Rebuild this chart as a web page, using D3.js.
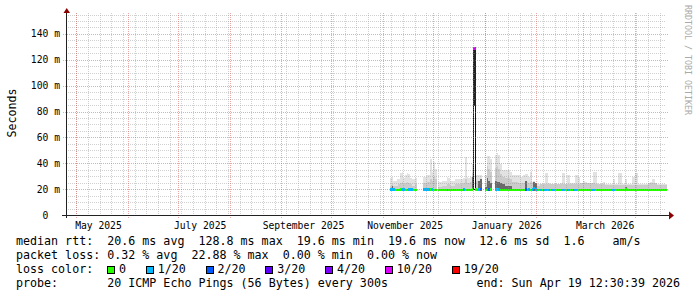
<!DOCTYPE html>
<html>
<head>
<meta charset="utf-8">
<script src="https://cdn.jsdelivr.net/npm/d3@7"></script>
<style>
  html, body { margin: 0; padding: 0; background: #fff; }
  svg { display: block; font-family: "DejaVu Sans Mono", monospace; }
  text { white-space: pre; }
</style>
</head>
<body>
<svg id="chart" width="697" height="297"></svg>
<script>
// time span of the graph (last 360 days)
const tStart = new Date(2025, 3, 24, 12, 30, 39)
const tEnd = new Date(2026, 3, 19, 12, 30, 39)

// one value per day, starting at dataStart (null = no data)
const dataStart = new Date(2025, 10, 5)

const median = [
  19.8, 19.8, 19.9, 19.7, 19.7, 19.7, 19.8, 19.8, 19.9, 19.7,
  19.7, 19.8, 19.8, 19.8, 19.7, 19.7, null, null, null, null,
  19.8, 19.8, 19.9, 19.8, 19.8, 19.9, 19.7, 19.7, null, 19.7,
  19.6, 19.6, 19.7, 19.6, 19.7, 19.7, 19.6, 19.6, 19.7, 19.7,
  19.6, 19.7, 19.7, 19.6, 19.9, 19.7, 19.7, 19.6, 19.7, 19.8,
  128.8, 19.8, 19.7, 19.8, 20.2, null, null, 19.7, 19.8, 20.0,
  19.8, null, null, 19.9, 19.8, 19.8, 19.7, 19.7, 19.6, 19.7,
  19.7, 19.6, 19.6, 19.7, 19.7, 19.6, 19.6, 19.7, 19.6, 19.6,
  19.7, 20.0, 19.7, 19.8, 19.7, 19.9, 21.0, 19.8, 19.7, 19.6,
  19.7, 19.6, 19.7, 19.7, 19.6, 19.7, 19.6, 19.7, 19.7, 19.6,
  19.6, 19.6, 19.6, 19.7, 19.7, 19.6, 19.7, 19.7, 19.6, 19.6,
  19.7, 19.7, 19.7, 19.6, 19.6, 19.6, 19.6, 19.7, 19.6, 19.6,
  19.6, 19.7, 19.7, 19.6, 19.6, 19.6, 19.6, 19.6, 19.6, 19.6,
  19.6, 19.6, 19.6, 19.7, 19.7, 19.6, 19.6, 19.6, 19.6, 19.6,
  19.6, 19.8, 19.6, 19.6, 19.6, 19.6, 19.6, 19.6, 19.6, 19.6,
  19.6, 19.6, 19.6, 19.6, 19.6, 19.6, 19.6, 19.6, 19.6, 19.6,
  19.6, 19.6, 19.6, 19.6, 19.6, 19.6
]

// lost pings out of 20
const loss = [
  1, 1, 1, 0, 0, 0, 0, 1, 1, 0,
  0, 1, 1, 1, 0, 0, null, null, null, null,
  1, 1, 1, 1, 0, 1, 0, 0, null, 0,
  0, 0, 0, 0, 1, 0, 0, 0, 0, 0,
  0, 0, 0, 0, 1, 0, 0, 0, 0, 0,
  10, 0, 0, 1, 2, null, null, 0, 1, 2,
  0, null, null, 1, 0, 1, 0, 0, 0, 0,
  0, 0, 0, 0, 0, 0, 0, 0, 0, 0,
  0, 2, 0, 1, 0, 1, 1, 1, 1, 0,
  1, 0, 1, 1, 0, 1, 0, 1, 1, 0,
  0, 0, 0, 1, 1, 0, 1, 1, 0, 0,
  1, 1, 0, 0, 0, 0, 0, 0, 0, 0,
  0, 1, 1, 0, 0, 0, 0, 0, 0, 0,
  0, 0, 0, 1, 1, 0, 0, 0, 0, 0,
  0, 0, 0, 0, 0, 0, 0, 0, 0, 0,
  0, 0, 0, 0, 0, 0, 0, 0, 0, 0,
  0, 0, 0, 0, 0, 0
]

// top of the outer (lightest) smoke
const smokeMax = [
  29, 30, 27, 27, 28, 28, 33, 34, 29, 31,
  33, 32, 29, 28, 28, 29, null, null, null, null,
  30, 30, 31, 31, 44, 34, 41, 36, null, 26,
  26, 27, 27, 27, 30, 29, 27, 27, 27, 28,
  28, 28, 28, 28, 29, 45, 30, 29, 30, 40,
  null, 31, 31, 31, 31, null, null, 31, 46, 46,
  44, null, null, 47, 48, 47, 40, 35, 35, 35,
  35, 35, 34, 31, 31, 31, 31, 31, 30, 30,
  31, 32, 32, 30, 34, 26, 27, 25, 25, 24,
  24, 25, 24, 33, 33, 25, 24, 24, 24, 25,
  24, 24, 25, 33, 33, 24, 31, 31, 25, 25,
  25, 31, 31, 30, 25, 25, 27, 26, 25, 25,
  25, 25, 34, 34, 25, 24, 24, 25, 26, 24,
  24, 24, 24, 24, 28, 24, 24, 33, 33, 24,
  24, 28, 24, 24, 24, 30, 30, 33, 33, 24,
  24, 24, 24, 24, 24, 25, 26, 28, 28, 25,
  24, 24, 24, 24, 24, 24
]

// top of the inner (darker) smoke
const smokeUpper = [
  23, 24, 23, 23, 23, 24, 25, 26, 24, 25,
  26, 25, 24, 23, 23, 24, null, null, null, null,
  25, 25, 26, 26, 28, 27, 30, 28, null, 22,
  22, 23, 23, 23, 24, 24, 23, 23, 23, 24,
  24, 24, 24, 24, 25, 28, 25, 25, 26, 33,
  null, 27, 27, 26, 26, null, null, 24, 38, 36,
  34, null, null, 37, 38, 36, 32, 30, 30, 29,
  29, 29, 28, 26, 26, 26, 26, 25, 25, 25,
  25, 27, 26, 25, 26, 24, 24, 23, 23, 23,
  24, 24, 24, 24, 24, 24, 24, 24, 24, 24,
  24, 24, 24, 24, 24, 24, 24, 24, 24, 24,
  24, 24, 24, 24, 25, 25, 25, 25, 25, 25,
  25, 25, 25, 24, 24, 24, 24, 24, 24, 23.5,
  23.5, 23.5, 23.5, 23.5, 23.5, 23.5, 23.5, 23.5, 23.5, 23.5,
  23.5, 23.5, 23.5, 23.5, 23.5, 23.5, 23.5, 23.5, 23.5, 23.5,
  23.5, 23.5, 23.5, 23.5, 23.5, 25, 25, 25, 25, 25,
  23.5, 23.5, 23.5, 23.5, 23.5, 23.5
]

// dark smoke core close to the median
const coreDays = [1, 49, 53, 54, 57, 58, 59, 60, 63, 64, 65, 66, 67, 68, 69, 70, 71, 72, 81, 86, 87, 141]
const coreTops = [23, 30, 27, 28, 22, 29, 27, 25, 27, 26, 26, 25, 24, 24, 23, 23, 23, 23, 27, 26, 25, 22]

// the big spike
const spikeDay = 50
const spikeSmoke = [85, 128.8]
const smokeFloor = 19.2

const lossSteps = [1, 2, 3, 4, 10, 19]
const lossLabels = ['0', '1/20', '2/20', '3/20', '4/20', '10/20', '19/20']
const lossColors = ['#26ff00', '#00b8ff', '#0059ff', '#5e00ff', '#7e00ff', '#dd00ff', '#ff0000']

const yTicks = [0, 20, 40, 60, 80, 100, 120, 140]
const yTickLabels = ['0  ', '20 m', '40 m', '60 m', '80 m', '100 m', '120 m', '140 m']
const xLabelMonths = [new Date(2025, 4, 1), new Date(2025, 6, 1), new Date(2025, 8, 1),
  new Date(2025, 10, 1), new Date(2026, 0, 1), new Date(2026, 2, 1)]
const xLabels = ['May 2025', 'July 2025', 'September 2025', 'November 2025', 'January 2026', 'March 2026']

const legendRtt = 'median rtt:  20.6 ms avg  128.8 ms max  19.6 ms min  19.6 ms now  12.6 ms sd  1.6    am/s'
const legendLoss = 'packet loss: 0.32 % avg  22.88 % max  0.00 % min  0.00 % now'
const legendProbe = 'probe:       20 ICMP Echo Pings (56 Bytes) every 300s'
const legendEnd = 'end: Sun Apr 19 12:30:39 2026'

const svg = d3.select('#chart')
const x = d3.scaleTime().domain([tStart, tEnd]).range([66, 666])
const y = d3.scaleLinear().domain([0, 156.2]).range([215.5, 13.5])
const lossColor = d3.scaleThreshold().domain(lossSteps).range(lossColors)
const crisp = v => Math.floor(v) + 0.5

const dayX = i => Math.round(x(d3.timeDay.offset(dataStart, i)))
const dayW = i => dayX(i + 1) - dayX(i)
const days = d3.range(median.length).filter(i => median[i] != null && i !== spikeDay)

// smoke
const plot = svg.append('g').attr('shape-rendering', 'crispEdges')
plot.selectAll('rect.outer').data(days.filter(i => smokeMax[i] != null)).enter().append('rect')
  .attr('x', dayX).attr('width', dayW)
  .attr('y', i => y(smokeMax[i])).attr('height', i => y(smokeFloor) - y(smokeMax[i]))
  .attr('fill', '#e2e2e2')
plot.selectAll('rect.inner').data(days.filter(i => smokeUpper[i] != null)).enter().append('rect')
  .attr('x', dayX).attr('width', dayW)
  .attr('y', i => y(smokeUpper[i])).attr('height', i => y(smokeFloor) - y(smokeUpper[i]))
  .attr('fill', '#cbcbcb')
plot.selectAll('rect.core').data(coreDays).enter().append('rect')
  .attr('x', dayX).attr('width', dayW)
  .attr('y', (d, k) => y(coreTops[k])).attr('height', (d, k) => y(smokeFloor) - y(coreTops[k]))
  .attr('fill', '#6a6a6a')

// spike: dark top part and hollow lower part
const sx = dayX(spikeDay) + 0.5
plot.append('rect').attr('x', sx).attr('width', dayW(spikeDay))
  .attr('y', y(spikeSmoke[0])).attr('height', y(median[spikeDay - 1]) - y(spikeSmoke[0]))
  .attr('fill', 'none').attr('stroke', '#111')
plot.append('rect').attr('x', sx).attr('width', dayW(spikeDay))
  .attr('y', y(spikeSmoke[1])).attr('height', y(spikeSmoke[0]) - y(spikeSmoke[1]))
  .attr('fill', '#222').attr('stroke', '#222')

// median coloured by loss
plot.selectAll('rect.med').data(days.concat([spikeDay])).enter().append('rect')
  .attr('x', dayX).attr('width', i => i === spikeDay ? dayW(i) + 1 : dayW(i))
  .attr('y', i => y(median[i]) - 1.5).attr('height', 2.6)
  .attr('fill', i => lossColor(loss[i]))

// grid
const grid = svg.append('g').attr('stroke-dasharray', '1,1').attr('shape-rendering', 'crispEdges')
const yMax = y.domain()[1]
const yMinor = d3.range(5, yMax, 5).filter(v => v % 20 !== 0)
const yMajor = d3.range(20, yMax, 20)
const weekLines = d3.timeDay.range(new Date(2025, 3, 24), tEnd, 7).filter(d => d >= tStart)
const monthLines = d3.timeMonth.range(tStart, tEnd)

grid.selectAll('line.hmin').data(yMinor).enter().append('line')
  .attr('x1', 66).attr('x2', 666).attr('y1', d => crisp(y(d))).attr('y2', d => crisp(y(d)))
  .attr('stroke', 'rgba(150,150,150,0.45)')
grid.selectAll('line.vmin').data(weekLines).enter().append('line')
  .attr('x1', d => crisp(x(d))).attr('x2', d => crisp(x(d))).attr('y1', 13).attr('y2', 215)
  .attr('stroke', 'rgba(150,150,150,0.45)')
grid.selectAll('line.hmaj').data(yMajor).enter().append('line')
  .attr('x1', 63).attr('x2', 669).attr('y1', d => crisp(y(d))).attr('y2', d => crisp(y(d)))
  .attr('stroke', 'rgba(222,79,79,0.5)')
grid.selectAll('line.vmaj').data(monthLines).enter().append('line')
  .attr('x1', d => crisp(x(d))).attr('x2', d => crisp(x(d))).attr('y1', 13).attr('y2', 218)
  .attr('stroke', 'rgba(222,79,79,0.5)')

// axes
const axis = svg.append('g').attr('shape-rendering', 'crispEdges').attr('stroke', '#212121')
axis.append('line').attr('x1', 66.5).attr('x2', 66.5).attr('y1', 12).attr('y2', 218)
axis.append('line').attr('x1', 62).attr('x2', 669).attr('y1', 215.5).attr('y2', 215.5)
svg.append('path').attr('d', 'M63.5,13L70,13L66.75,8Z').attr('fill', '#8b0000')
svg.append('path').attr('d', 'M669,211.5L669,219.5L674,215.5Z').attr('fill', '#8b0000')

// tick labels
svg.append('g').selectAll('text').data(yTicks).enter().append('text')
  .attr('x', 60).attr('y', d => y(d) + 3).attr('text-anchor', 'end')
  .attr('font-size', '9.7px').attr('fill', '#000')
  .text((d, i) => yTickLabels[i])
svg.append('g').selectAll('text').data(xLabelMonths).enter().append('text')
  .attr('x', d => x(d3.timeDay.offset(d, 13))).attr('y', 228.5).attr('text-anchor', 'middle')
  .attr('font-size', '9.7px').attr('fill', '#000')
  .text((d, i) => xLabels[i])

svg.append('text').attr('transform', 'translate(15.5,113) rotate(-90)')
  .attr('text-anchor', 'middle').attr('font-size', '11.6px').text('Seconds')
svg.append('text').attr('transform', 'translate(684.5,5) rotate(90)')
  .attr('font-size', '8.3px').attr('fill', '#aaa').text('RRDTOOL / TOBI OETIKER')

// legend
const lg = svg.append('g').attr('font-size', '11.66px').attr('fill', '#000')
lg.append('text').attr('x', 16).attr('y', 244.5).text(legendRtt)
lg.append('text').attr('x', 16).attr('y', 258.5).text(legendLoss)
lg.append('text').attr('x', 16).attr('y', 272.5).text('loss color:')
lg.append('text').attr('x', 16).attr('y', 286.5).text(legendProbe)
lg.append('text').attr('x', 680).attr('y', 286.5).attr('text-anchor', 'end').text(legendEnd)

let bx = 107
lossLabels.forEach((label, i) => {
  lg.append('rect').attr('x', bx + 0.5).attr('y', 266.5).attr('width', 7).attr('height', 7)
    .attr('fill', lossColors[i]).attr('stroke', '#000').attr('shape-rendering', 'crispEdges')
  const t = lg.append('text').attr('x', bx + 12).attr('y', 272.5).text(label)
  bx = bx + 12 + t.node().getComputedTextLength() + 19.7
})
</script>
</body>
</html>
